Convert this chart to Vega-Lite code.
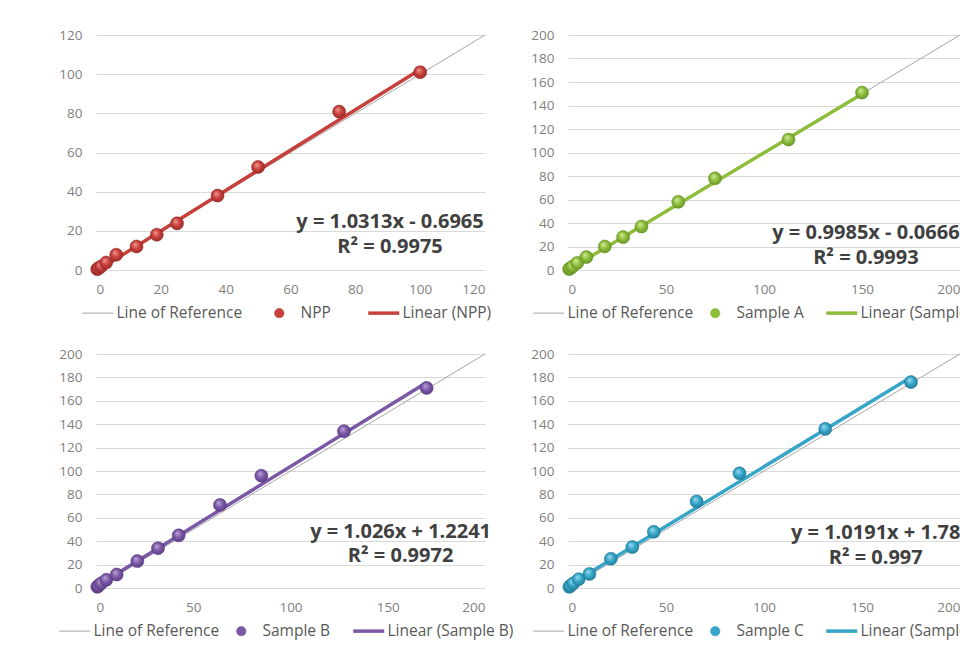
{
  "$schema": "https://vega.github.io/schema/vega-lite/v6.json",
  "background": "white",
  "padding": {"left": 58, "top": 28, "right": 0, "bottom": 0},
  "config": {
    "view": {"stroke": null},
    "font": "Open Sans",
    "axis": {"domain": false, "ticks": false, "labelFont": "Open Sans", "labelFontSize": 13.5, "labelColor": "#7f7f7f", "gridColor": "#d9d9d9", "gridWidth": 1, "title": null},
    "axisX": {"grid": false, "labelPadding": 12},
    "axisY": {"grid": true, "labelPadding": 14},
    "legend": {"orient": "bottom", "direction": "horizontal", "title": null, "labelFont": "Open Sans", "labelFontSize": 15.5, "labelColor": "#595959", "labelOffset": 11, "columnPadding": 15, "offset": 9, "labelLimit": 400, "layout": {"bottom": {"anchor": "middle"}}}
  },
  "datasets": {
    "npp": [
      {"x": 0, "y": 0, "series": "Line of Reference"},
      {"x": 120, "y": 120, "series": "Line of Reference"},
      {"x": 0.39, "y": -0.29, "series": "Linear (NPP)"},
      {"x": 100, "y": 102.43, "series": "Linear (NPP)"},
      {"x": 0.39, "y": 0.4, "series": "NPP"},
      {"x": 0.78, "y": 0.9, "series": "NPP"},
      {"x": 1.56, "y": 1.8, "series": "NPP"},
      {"x": 3.13, "y": 3.8, "series": "NPP"},
      {"x": 6.25, "y": 7.8, "series": "NPP"},
      {"x": 12.5, "y": 12, "series": "NPP"},
      {"x": 18.75, "y": 18, "series": "NPP"},
      {"x": 25, "y": 23.8, "series": "NPP"},
      {"x": 37.5, "y": 38, "series": "NPP"},
      {"x": 50, "y": 52.6, "series": "NPP"},
      {"x": 75, "y": 80.9, "series": "NPP"},
      {"x": 100, "y": 101, "series": "NPP"}
    ],
    "sa": [
      {"x": 0, "y": 0, "series": "Line of Reference"},
      {"x": 200, "y": 200, "series": "Line of Reference"},
      {"x": 0.59, "y": 0.52, "series": "Linear (Sample A)"},
      {"x": 150, "y": 149.71, "series": "Linear (Sample A)"},
      {"x": 0.59, "y": 0.8, "series": "Sample A"},
      {"x": 1.17, "y": 1.5, "series": "Sample A"},
      {"x": 2.34, "y": 3, "series": "Sample A"},
      {"x": 4.69, "y": 6, "series": "Sample A"},
      {"x": 9.38, "y": 11, "series": "Sample A"},
      {"x": 18.75, "y": 20, "series": "Sample A"},
      {"x": 28.13, "y": 28, "series": "Sample A"},
      {"x": 37.5, "y": 37, "series": "Sample A"},
      {"x": 56.25, "y": 58, "series": "Sample A"},
      {"x": 75, "y": 78, "series": "Sample A"},
      {"x": 112.5, "y": 111, "series": "Sample A"},
      {"x": 150, "y": 151, "series": "Sample A"}
    ],
    "sb": [
      {"x": 0, "y": 0, "series": "Line of Reference"},
      {"x": 200, "y": 200, "series": "Line of Reference"},
      {"x": 0.66, "y": 1.9, "series": "Linear (Sample B)"},
      {"x": 170, "y": 175.64, "series": "Linear (Sample B)"},
      {"x": 0.66, "y": 1, "series": "Sample B"},
      {"x": 1.33, "y": 2, "series": "Sample B"},
      {"x": 2.66, "y": 4, "series": "Sample B"},
      {"x": 5.31, "y": 7, "series": "Sample B"},
      {"x": 10.63, "y": 11.5, "series": "Sample B"},
      {"x": 21.25, "y": 23, "series": "Sample B"},
      {"x": 31.88, "y": 34, "series": "Sample B"},
      {"x": 42.5, "y": 45, "series": "Sample B"},
      {"x": 63.75, "y": 71, "series": "Sample B"},
      {"x": 85, "y": 96, "series": "Sample B"},
      {"x": 127.5, "y": 134, "series": "Sample B"},
      {"x": 170, "y": 171, "series": "Sample B"}
    ],
    "sc": [
      {"x": 0, "y": 0, "series": "Line of Reference"},
      {"x": 200, "y": 200, "series": "Line of Reference"},
      {"x": 0.68, "y": 2.47, "series": "Linear (Sample C)"},
      {"x": 175, "y": 180.12, "series": "Linear (Sample C)"},
      {"x": 0.68, "y": 1, "series": "Sample C"},
      {"x": 1.37, "y": 2, "series": "Sample C"},
      {"x": 2.73, "y": 4, "series": "Sample C"},
      {"x": 5.47, "y": 7.5, "series": "Sample C"},
      {"x": 10.94, "y": 12, "series": "Sample C"},
      {"x": 21.88, "y": 25, "series": "Sample C"},
      {"x": 32.81, "y": 35, "series": "Sample C"},
      {"x": 43.75, "y": 48, "series": "Sample C"},
      {"x": 65.63, "y": 74, "series": "Sample C"},
      {"x": 87.5, "y": 98, "series": "Sample C"},
      {"x": 131.25, "y": 136, "series": "Sample C"},
      {"x": 175, "y": 176, "series": "Sample C"}
    ]
  },
  "resolve": {"scale": {"color": "independent"}, "legend": {"color": "independent"}},
  "spacing": 25,
  "vconcat": [
    {
      "bounds": "flush",
      "spacing": 83,
      "resolve": {"scale": {"color": "independent"}, "legend": {"color": "independent"}},
      "hconcat": [
        {
          "width": 389, "height": 235,
          "data": {"name": "npp"},
          "encoding": {
            "x": {"field": "x", "type": "quantitative", "scale": {"domain": [0, 120], "nice": false}, "axis": {"values": [0, 20, 40, 60, 80, 100, 120]}},
            "y": {"field": "y", "type": "quantitative", "scale": {"domain": [0, 120], "nice": false}, "axis": {"values": [0, 20, 40, 60, 80, 100, 120]}}
          },
          "layer": [
            {
              "transform": [{"filter": "datum.series === 'Line of Reference'"}],
              "mark": {"type": "line", "strokeWidth": 1},
              "encoding": {"color": {"field": "series", "type": "nominal",
                "scale": {"domain": ["Line of Reference", "NPP", "Linear (NPP)"], "range": ["#a6a6a6", "#c8403c", "#c8403c"]},
                "legend": {"columnPadding": 30, "encode": {"symbols": {"update": {
                  "shape": {"signal": "datum.value === 'NPP' ? 'M -1.53 0 A 1 1 0 1 1 0.47 0 A 1 1 0 1 1 -1.53 0 Z' : 'stroke'"},
                  "size": {"signal": "datum.value === 'NPP' ? 90 : 961"},
                  "strokeWidth": {"signal": "datum.value === 'NPP' ? 0.5 : (datum.value === 'Line of Reference' ? 1 : 3.5)"},
                  "fill": {"signal": "datum.value === 'NPP' ? '#c8403c' : 'transparent'"},
                  "opacity": {"value": 1}
                }}}}}}
            },
            {
              "transform": [{"filter": "datum.series === 'Linear (NPP)'"}],
              "mark": {"type": "line", "strokeWidth": 3.5},
              "encoding": {"color": {"field": "series", "type": "nominal"}}
            },
            {
              "transform": [{"filter": "datum.series === 'NPP'"}],
              "mark": {"type": "point", "filled": true, "size": 170, "opacity": 1, "stroke": "#8e2522", "strokeWidth": 0.5,
                "fill": {"gradient": "radial", "x1": 0.38, "y1": 0.32, "r1": 0, "x2": 0.5, "y2": 0.5, "r2": 0.6,
                  "stops": [{"offset": 0, "color": "#f29a94"}, {"offset": 0.5, "color": "#c8403c"}, {"offset": 1, "color": "#8e2522"}]}}
            },
            {
              "data": {"values": [
                {"x": 90.7, "y": 24.5, "label": "y = 1.0313x - 0.6965"},
                {"x": 90.7, "y": 12, "label": "R² = 0.9975"}
              ]},
              "mark": {"type": "text", "font": "Open Sans", "fontWeight": "bold", "fontSize": 20, "color": "#404040"},
              "encoding": {"text": {"field": "label"}}
            }
          ]
        },
        {
          "width": 392, "height": 235,
          "data": {"name": "sa"},
          "encoding": {
            "x": {"field": "x", "type": "quantitative", "scale": {"domain": [0, 200], "nice": false}, "axis": {"values": [0, 50, 100, 150, 200]}},
            "y": {"field": "y", "type": "quantitative", "scale": {"domain": [0, 200], "nice": false}, "axis": {"values": [0, 20, 40, 60, 80, 100, 120, 140, 160, 180, 200]}}
          },
          "layer": [
            {
              "transform": [{"filter": "datum.series === 'Line of Reference'"}],
              "mark": {"type": "line", "strokeWidth": 1},
              "encoding": {"color": {"field": "series", "type": "nominal",
                "scale": {"domain": ["Line of Reference", "Sample A", "Linear (Sample A)"], "range": ["#a6a6a6", "#8dbd3b", "#8dbd3b"]},
                "legend": {"encode": {"symbols": {"update": {
                  "shape": {"signal": "datum.value === 'Sample A' ? 'M -1.53 0 A 1 1 0 1 1 0.47 0 A 1 1 0 1 1 -1.53 0 Z' : 'stroke'"},
                  "size": {"signal": "datum.value === 'Sample A' ? 90 : 961"},
                  "strokeWidth": {"signal": "datum.value === 'Sample A' ? 0.5 : (datum.value === 'Line of Reference' ? 1 : 3.5)"},
                  "fill": {"signal": "datum.value === 'Sample A' ? '#8dbd3b' : 'transparent'"},
                  "opacity": {"value": 1}
                }}}}}}
            },
            {
              "transform": [{"filter": "datum.series === 'Linear (Sample A)'"}],
              "mark": {"type": "line", "strokeWidth": 3.5},
              "encoding": {"color": {"field": "series", "type": "nominal"}}
            },
            {
              "transform": [{"filter": "datum.series === 'Sample A'"}],
              "mark": {"type": "point", "filled": true, "size": 170, "opacity": 1, "stroke": "#5e8a1f", "strokeWidth": 0.5,
                "fill": {"gradient": "radial", "x1": 0.38, "y1": 0.32, "r1": 0, "x2": 0.5, "y2": 0.5, "r2": 0.6,
                  "stops": [{"offset": 0, "color": "#d3ec9c"}, {"offset": 0.5, "color": "#8dbd3b"}, {"offset": 1, "color": "#5e8a1f"}]}}
            },
            {
              "data": {"values": [
                {"x": 152, "y": 31.5, "label": "y = 0.9985x - 0.0666"},
                {"x": 152, "y": 10, "label": "R² = 0.9993"}
              ]},
              "mark": {"type": "text", "font": "Open Sans", "fontWeight": "bold", "fontSize": 20, "color": "#404040"},
              "encoding": {"text": {"field": "label"}}
            }
          ]
        }
      ]
    },
    {
      "bounds": "flush",
      "spacing": 83,
      "resolve": {"scale": {"color": "independent"}, "legend": {"color": "independent"}},
      "hconcat": [
        {
          "width": 389, "height": 234,
          "data": {"name": "sb"},
          "encoding": {
            "x": {"field": "x", "type": "quantitative", "scale": {"domain": [0, 200], "nice": false}, "axis": {"values": [0, 50, 100, 150, 200]}},
            "y": {"field": "y", "type": "quantitative", "scale": {"domain": [0, 200], "nice": false}, "axis": {"values": [0, 20, 40, 60, 80, 100, 120, 140, 160, 180, 200]}}
          },
          "layer": [
            {
              "transform": [{"filter": "datum.series === 'Line of Reference'"}],
              "mark": {"type": "line", "strokeWidth": 1},
              "encoding": {"color": {"field": "series", "type": "nominal",
                "scale": {"domain": ["Line of Reference", "Sample B", "Linear (Sample B)"], "range": ["#a6a6a6", "#7b58a6", "#7b58a6"]},
                "legend": {"encode": {"symbols": {"update": {
                  "shape": {"signal": "datum.value === 'Sample B' ? 'M -1.53 0 A 1 1 0 1 1 0.47 0 A 1 1 0 1 1 -1.53 0 Z' : 'stroke'"},
                  "size": {"signal": "datum.value === 'Sample B' ? 90 : 961"},
                  "strokeWidth": {"signal": "datum.value === 'Sample B' ? 0.5 : (datum.value === 'Line of Reference' ? 1 : 3.5)"},
                  "fill": {"signal": "datum.value === 'Sample B' ? '#7b58a6' : 'transparent'"},
                  "opacity": {"value": 1}
                }}}}}}
            },
            {
              "transform": [{"filter": "datum.series === 'Linear (Sample B)'"}],
              "mark": {"type": "line", "strokeWidth": 3.5},
              "encoding": {"color": {"field": "series", "type": "nominal"}}
            },
            {
              "transform": [{"filter": "datum.series === 'Sample B'"}],
              "mark": {"type": "point", "filled": true, "size": 170, "opacity": 1, "stroke": "#52377a", "strokeWidth": 0.5,
                "fill": {"gradient": "radial", "x1": 0.38, "y1": 0.32, "r1": 0, "x2": 0.5, "y2": 0.5, "r2": 0.6,
                  "stops": [{"offset": 0, "color": "#bda8dc"}, {"offset": 0.5, "color": "#7b58a6"}, {"offset": 1, "color": "#52377a"}]}}
            },
            {
              "data": {"values": [
                {"x": 156.6, "y": 48, "label": "y = 1.026x + 1.2241"},
                {"x": 156.6, "y": 27.4, "label": "R² = 0.9972"}
              ]},
              "mark": {"type": "text", "font": "Open Sans", "fontWeight": "bold", "fontSize": 20, "color": "#404040"},
              "encoding": {"text": {"field": "label"}}
            }
          ]
        },
        {
          "width": 392, "height": 234,
          "data": {"name": "sc"},
          "encoding": {
            "x": {"field": "x", "type": "quantitative", "scale": {"domain": [0, 200], "nice": false}, "axis": {"values": [0, 50, 100, 150, 200]}},
            "y": {"field": "y", "type": "quantitative", "scale": {"domain": [0, 200], "nice": false}, "axis": {"values": [0, 20, 40, 60, 80, 100, 120, 140, 160, 180, 200]}}
          },
          "layer": [
            {
              "transform": [{"filter": "datum.series === 'Line of Reference'"}],
              "mark": {"type": "line", "strokeWidth": 1},
              "encoding": {"color": {"field": "series", "type": "nominal",
                "scale": {"domain": ["Line of Reference", "Sample C", "Linear (Sample C)"], "range": ["#a6a6a6", "#36a5c7", "#36a5c7"]},
                "legend": {"encode": {"symbols": {"update": {
                  "shape": {"signal": "datum.value === 'Sample C' ? 'M -1.53 0 A 1 1 0 1 1 0.47 0 A 1 1 0 1 1 -1.53 0 Z' : 'stroke'"},
                  "size": {"signal": "datum.value === 'Sample C' ? 90 : 961"},
                  "strokeWidth": {"signal": "datum.value === 'Sample C' ? 0.5 : (datum.value === 'Line of Reference' ? 1 : 3.5)"},
                  "fill": {"signal": "datum.value === 'Sample C' ? '#36a5c7' : 'transparent'"},
                  "opacity": {"value": 1}
                }}}}}}
            },
            {
              "transform": [{"filter": "datum.series === 'Linear (Sample C)'"}],
              "mark": {"type": "line", "strokeWidth": 3.5},
              "encoding": {"color": {"field": "series", "type": "nominal"}}
            },
            {
              "transform": [{"filter": "datum.series === 'Sample C'"}],
              "mark": {"type": "point", "filled": true, "size": 170, "opacity": 1, "stroke": "#1d7491", "strokeWidth": 0.5,
                "fill": {"gradient": "radial", "x1": 0.38, "y1": 0.32, "r1": 0, "x2": 0.5, "y2": 0.5, "r2": 0.6,
                  "stops": [{"offset": 0, "color": "#9adcf0"}, {"offset": 0.5, "color": "#36a5c7"}, {"offset": 1, "color": "#1d7491"}]}}
            },
            {
              "data": {"values": [
                {"x": 157, "y": 46.6, "label": "y = 1.0191x + 1.78"},
                {"x": 157, "y": 25.7, "label": "R² = 0.997"}
              ]},
              "mark": {"type": "text", "font": "Open Sans", "fontWeight": "bold", "fontSize": 20, "color": "#404040"},
              "encoding": {"text": {"field": "label"}}
            }
          ]
        }
      ]
    }
  ]
}
